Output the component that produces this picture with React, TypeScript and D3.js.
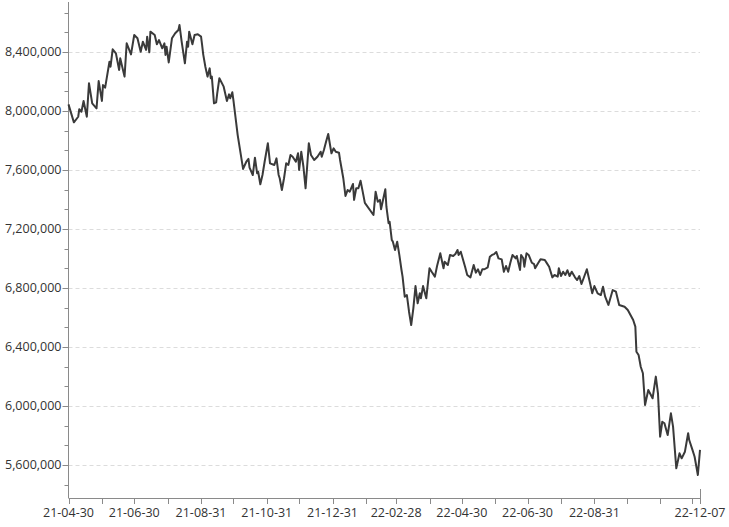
import React from "react";
import * as d3 from "d3";

const dates = [
  "21-04-30","21-05-05","21-05-09","21-05-10","21-05-12","21-05-14","21-05-17","21-05-19","21-05-22","21-05-26",
  "21-05-28","21-05-31","21-06-01","21-06-03","21-06-07","21-06-08","21-06-10","21-06-13","21-06-16","21-06-17",
  "21-06-21","21-06-23","21-06-27","21-06-30","21-07-03","21-07-06","21-07-08","21-07-11","21-07-12","21-07-14",
  "21-07-15","21-07-19","21-07-21","21-07-23","21-07-26","21-07-28","21-07-29","21-07-30","21-08-01","21-08-04",
  "21-08-07","21-08-10","21-08-11","21-08-13","21-08-16","21-08-18","21-08-19","21-08-20","21-08-23","21-08-25",
  "21-08-28","21-08-31","21-09-01","21-09-02","21-09-04","21-09-06","21-09-08","21-09-09","21-09-10","21-09-12",
  "21-09-14","21-09-15","21-09-17","21-09-21","21-09-24","21-09-26","21-09-27","21-09-29","21-09-30","21-10-04",
  "21-10-09","21-10-12","21-10-14","21-10-15","21-10-18","21-10-20","21-10-22","21-10-23","21-10-25","21-10-27",
  "21-10-29","21-11-01","21-11-03","21-11-07","21-11-09","21-11-11","21-11-12","21-11-14","21-11-16","21-11-18",
  "21-11-20","21-11-22","21-11-24","21-11-27","21-11-29","21-11-30","21-12-02","21-12-04","21-12-06","21-12-09",
  "21-12-11","21-12-14","21-12-17","21-12-20","21-12-21","21-12-23","21-12-25","21-12-27","21-12-30","22-01-01",
  "22-01-03","22-01-06","22-01-07","22-01-10","22-01-12","22-01-14","22-01-16","22-01-19","22-01-20","22-01-22",
  "22-01-24","22-01-26","22-01-28","22-01-30","22-02-07","22-02-09","22-02-11","22-02-13","22-02-14","22-02-18",
  "22-02-19","22-02-21","22-02-22","22-02-24","22-02-25","22-02-27","22-03-01","22-03-03","22-03-05","22-03-06",
  "22-03-08","22-03-10","22-03-12","22-03-14","22-03-16","22-03-18","22-03-20","22-03-22","22-03-23","22-03-25",
  "22-03-28","22-03-31","22-04-02","22-04-05","22-04-07","22-04-10","22-04-13","22-04-14","22-04-17","22-04-19",
  "22-04-22","22-04-24","22-04-26","22-04-27","22-04-29","22-05-03","22-05-05","22-05-08","22-05-11","22-05-13",
  "22-05-15","22-05-17","22-05-19","22-05-21","22-05-24","22-05-26","22-05-28","22-05-30","22-06-01","22-06-03",
  "22-06-06","22-06-08","22-06-10","22-06-12","22-06-14","22-06-16","22-06-19","22-06-20","22-06-23","22-06-24",
  "22-06-26","22-06-27","22-06-29","22-07-01","22-07-04","22-07-06","22-07-07","22-07-10","22-07-12","22-07-16",
  "22-07-18","22-07-20","22-07-23","22-07-25","22-07-28","22-07-29","22-07-31","22-08-02","22-08-04","22-08-06",
  "22-08-08","22-08-10","22-08-13","22-08-15","22-08-17","22-08-19","22-08-21","22-08-24","22-08-27","22-08-29",
  "22-08-31","22-09-03","22-09-06","22-09-08","22-09-10","22-09-13","22-09-17","22-09-20","22-09-23","22-09-28",
  "22-10-01","22-10-06","22-10-08","22-10-09","22-10-11","22-10-13","22-10-15","22-10-17","22-10-20","22-10-24",
  "22-10-27","22-10-29","22-10-31","22-11-02","22-11-04","22-11-07","22-11-10","22-11-12","22-11-15","22-11-18",
  "22-11-20","22-11-23","22-11-26","22-11-27","22-11-30","22-12-02","22-12-05","22-12-07"
];

const values = [
  8045000,7923000,7961000,8012000,7995000,8068000,7961000,8188000,8052000,8018000,
  8203000,8068000,8176000,8158000,8334000,8300000,8418000,8391000,8278000,8357000,
  8233000,8459000,8384000,8515000,8493000,8402000,8470000,8414000,8504000,8398000,
  8538000,8515000,8452000,8481000,8425000,8459000,8380000,8436000,8329000,8493000,
  8527000,8549000,8583000,8470000,8323000,8470000,8436000,8538000,8452000,8515000,
  8520000,8504000,8447000,8384000,8300000,8233000,8289000,8222000,8233000,8052000,
  8059000,8120000,8222000,8165000,8068000,8113000,8086000,8127000,8075000,7837000,
  7607000,7656000,7675000,7616000,7566000,7683000,7578000,7588000,7503000,7566000,
  7656000,7781000,7645000,7634000,7679000,7566000,7544000,7464000,7544000,7645000,
  7634000,7702000,7690000,7656000,7713000,7600000,7724000,7622000,7476000,7781000,
  7702000,7668000,7690000,7724000,7690000,7736000,7792000,7844000,7713000,7747000,
  7724000,7717000,7668000,7544000,7424000,7464000,7453000,7505000,7397000,7476000,
  7476000,7527000,7453000,7377000,7295000,7453000,7385000,7397000,7334000,7469000,
  7351000,7239000,7249000,7125000,7114000,7058000,7114000,7024000,6922000,6877000,
  6741000,6752000,6639000,6549000,6662000,6813000,6696000,6764000,6730000,6813000,
  6730000,6934000,6910000,6877000,6949000,7035000,6934000,6978000,6956000,7024000,
  7017000,7030000,7058000,7024000,7046000,6944000,6888000,6872000,6956000,6904000,
  6927000,6888000,6927000,6927000,6940000,7012000,7024000,7030000,7044000,7001000,
  6994000,6910000,6949000,6910000,6971000,7024000,7001000,7017000,6922000,7024000,
  7001000,6944000,7035000,7024000,6971000,6962000,6934000,6971000,6994000,6990000,
  6967000,6944000,6872000,6888000,6877000,6934000,6881000,6910000,6888000,6920000,
  6881000,6910000,6872000,6854000,6881000,6827000,6866000,6927000,6832000,6764000,
  6813000,6764000,6752000,6809000,6741000,6685000,6786000,6775000,6685000,6673000,
  6651000,6583000,6538000,6368000,6346000,6266000,6222000,6007000,6108000,6052000,
  6199000,6086000,5792000,5893000,5883000,5803000,5950000,5860000,5577000,5679000,
  5645000,5690000,5815000,5769000,5702000,5656000,5532000,5702000
];

const monthTicks = [
  "21-04-30","21-05-31","21-06-30","21-07-31","21-08-31","21-09-30","21-10-31","21-11-30","21-12-31",
  "22-01-31","22-02-28","22-03-31","22-04-30","22-05-31","22-06-30","22-07-31","22-08-31","22-09-30",
  "22-10-31","22-11-30"
];
const labeledTicks = [
  "21-04-30","21-06-30","21-08-31","21-10-31","21-12-31","22-02-28","22-04-30","22-06-30","22-08-31","22-12-07"
];
const yMajorTicks = [5600000,6000000,6400000,6800000,7200000,7600000,8000000,8400000];
const yDomain = [5376000, 8739000];

export default function App() {
  const W = 729, H = 527;
  const parse = d3.timeParse("%y-%m-%d");
  const x = d3.scaleTime()
    .domain([parse(dates[0]) as Date, parse(dates[dates.length - 1]) as Date])
    .range([68.5, 700]);
  const y = d3.scaleLinear().domain(yDomain).range([498, 2]);
  const data = dates.map((d, i) => ({ date: parse(d) as Date, value: values[i] }));
  const line = d3.line<{ date: Date; value: number }>()
    .x(d => x(d.date))
    .y(d => y(d.value));
  const step = (yMajorTicks[1] - yMajorTicks[0]) / 3;
  const minorTicks: number[] = [];
  for (let v = yMajorTicks[0] - step * 3; v <= yDomain[1]; v += step) {
    if (v >= yDomain[0] && v <= yDomain[1]) minorTicks.push(v);
  }
  const fmt = d3.format(",");
  const axisColor = "#8a8a8a";
  const font = "'Open Sans', sans-serif";
  const x0 = 68.5, xEnd = 700, yBase = 498;

  return (
    <svg width={W} height={H} style={{ position: "absolute", left: 0, top: 0, background: "#fff" }}>
      {yMajorTicks.map(v => (
        <line key={"g" + v} x1={x0} x2={xEnd} y1={Math.round(y(v)) + 0.5} y2={Math.round(y(v)) + 0.5}
          stroke="#dcdcdc" strokeDasharray="4,3" strokeWidth={1} />
      ))}
      <line x1={x0} x2={x0} y1={2} y2={yBase} stroke={axisColor} strokeWidth={1} />
      <line x1={x0} x2={xEnd + 0.5} y1={yBase + 0.5} y2={yBase + 0.5} stroke={axisColor} strokeWidth={1} />
      {minorTicks.map(v => (
        <line key={"m" + v} x1={x0 - 4} x2={x0} y1={Math.round(y(v)) + 0.5} y2={Math.round(y(v)) + 0.5}
          stroke={axisColor} strokeWidth={1} />
      ))}
      {yMajorTicks.map(v => (
        <g key={"t" + v}>
          <line x1={x0 - 6} x2={x0} y1={Math.round(y(v)) + 0.5} y2={Math.round(y(v)) + 0.5}
            stroke={axisColor} strokeWidth={1} />
          <text x={x0 - 7} y={y(v) + 4.5} textAnchor="end" fontFamily={font} fontSize={12.5} fill="#333">
            {fmt(v)}
          </text>
        </g>
      ))}
      {monthTicks.map(d => {
        const px = Math.round(x(parse(d) as Date)) + 0.5;
        return <line key={"x" + d} x1={px} x2={px} y1={yBase} y2={yBase + 6} stroke={axisColor} strokeWidth={1} />;
      })}
      <line x1={xEnd + 0.5} x2={xEnd + 0.5} y1={yBase - 9} y2={yBase + 6} stroke={axisColor} strokeWidth={1} />
      {labeledTicks.map(d => (
        <text key={"l" + d} x={x(parse(d) as Date)} y={517} textAnchor="middle" fontFamily={font}
          fontSize={12.5} fill="#333">
          {d}
        </text>
      ))}
      <path d={line(data) || ""} fill="none" stroke="#3a3a3a" strokeWidth={2} strokeLinejoin="round" />
    </svg>
  );
}
